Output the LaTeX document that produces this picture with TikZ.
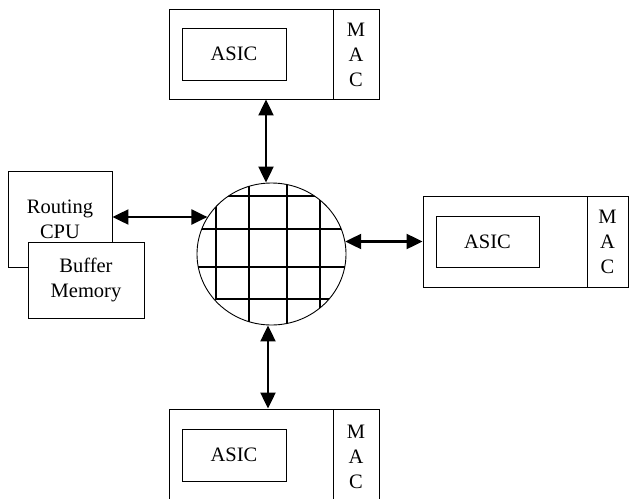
\documentclass[tikz,border=0pt]{standalone}
\usepackage{fontspec}
\setmainfont{Liberation Serif}
\usetikzlibrary{shapes.geometric,arrows.meta,calc}

\tikzset{
  box/.style={draw, line width=0.9pt, fill=white, inner sep=0pt, align=center},
  lbl/.style={font=\fontsize{20.5}{25}\selectfont, inner sep=0pt, align=center},
  biarrow/.style={line width=2.2pt, {Triangle[length=16pt,width=15pt]}-{Triangle[length=16pt,width=15pt]}},
  gridline/.style={line width=1.2pt}
}

\begin{document}
\begin{tikzpicture}[x=1pt, y=-1pt]
\useasboundingbox (0,0) rectangle (629,498);
\fill[white] (0,0) rectangle (629,498);

% switching fabric
\node[draw, line width=0.9pt, shape=ellipse, inner sep=0pt,
      minimum width=149pt, minimum height=142pt] (hub) at (271.5,254) {};
\begin{scope}
  \clip (271.5,254) ellipse [x radius=74.5pt, y radius=71pt];
  \draw[gridline] (216,150) -- (216,299) -- (400,299);
  \draw[gridline] (249,150) -- (249,350);
  \draw[gridline] (287,150) -- (287,350);
  \draw[gridline] (320,150) -- (320,350);
  \draw[gridline] (150,196) -- (400,196);
  \draw[gridline] (150,229) -- (400,229);
  \draw[gridline] (150,267) -- (400,267);
\end{scope}

% top line card
\node[box, minimum width=164pt, minimum height=90pt] (topmain) at (251,54) {};
\node[box, minimum width=46pt, minimum height=90pt] (topmac) at (356,54) {};
\node[box, lbl, minimum width=104pt, minimum height=52pt] (topasic) at (234,54) {ASIC};
\node[lbl] (topmactext) at (356,55) {M\\A\\C};

% right line card
\node[box, minimum width=164pt, minimum height=91pt] (rightmain) at (505,241.5) {};
\node[box, minimum width=41pt, minimum height=91pt] (rightmac) at (607.5,241.5) {};
\node[box, lbl, minimum width=103pt, minimum height=51pt] (rightasic) at (487.5,241.5) {ASIC};
\node[lbl] (rightmactext) at (607.5,242) {M\\A\\C};

% bottom line card
\node[box, minimum width=164pt, minimum height=92pt] (botmain) at (251,455) {};
\node[box, minimum width=46pt, minimum height=92pt] (botmac) at (356,455) {};
\node[box, lbl, minimum width=104pt, minimum height=52pt] (botasic) at (234,455) {ASIC};
\node[lbl] (botmactext) at (356,457) {M\\A\\C};

% routing processor and buffer memory
\node[box, lbl, minimum width=104pt, minimum height=96pt] (routing) at (60,219) {Routing\\CPU};
\node[box, lbl, minimum width=116pt, minimum height=76pt] (buffer) at (86,280) {Buffer\\Memory};

% connections to the fabric
\draw[biarrow] ($(topmain.south)+(15,0)$) coordinate (ta) -- (ta |- hub.north);
\draw[biarrow] ($(botmain.north)+(17,0)$) coordinate (ba) -- (ba |- hub.south);
\draw[biarrow] ($(routing.east)+(0,-2)$) coordinate (la) -- (la -| hub.150);
\draw[biarrow] (rightmain.west) -- (rightmain.west -| hub.10);
\end{tikzpicture}
\end{document}
